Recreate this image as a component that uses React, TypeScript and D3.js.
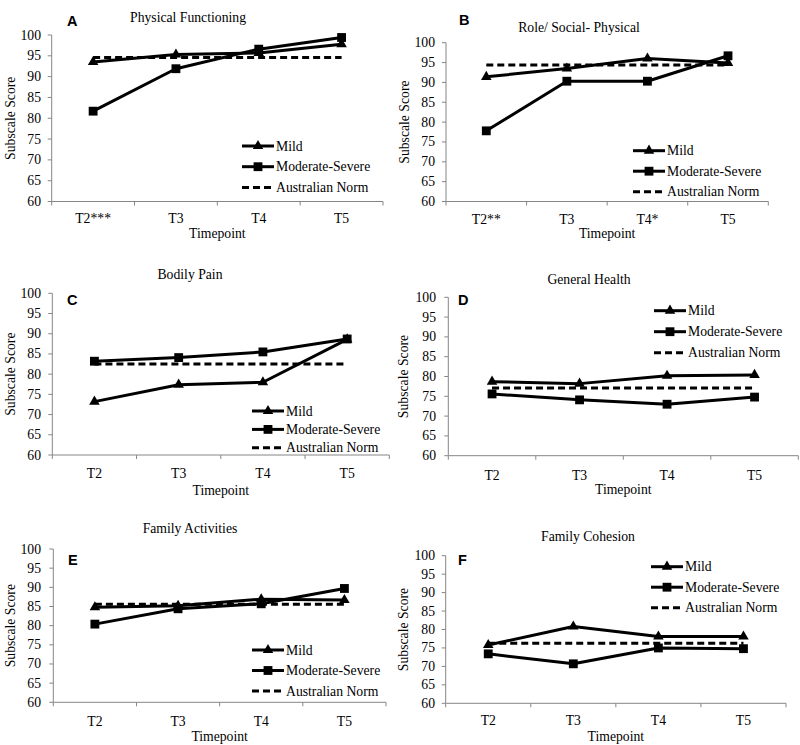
import React from "react";
import * as d3 from "d3";

// ---------- data ----------
const panelLetters = ["A", "B", "C", "D", "E", "F"];
const panelTitles = [
  "Physical Functioning",
  "Role/ Social- Physical",
  "Bodily Pain",
  "General Health",
  "Family Activities",
  "Family Cohesion",
];
const xCategories = [
  ["T2***", "T3", "T4", "T5"],
  ["T2**", "T3", "T4*", "T5"],
  ["T2", "T3", "T4", "T5"],
  ["T2", "T3", "T4", "T5"],
  ["T2", "T3", "T4", "T5"],
  ["T2", "T3", "T4", "T5"],
];
const mildValues = [
  [93.5, 95.3, 95.7, 97.8],
  [91.4, 93.5, 96.0, 94.9],
  [73.2, 77.4, 78.0, 88.6],
  [78.7, 78.2, 80.2, 80.4],
  [84.8, 85.2, 86.9, 86.7],
  [75.8, 80.8, 78.1, 78.1],
];
const modSevValues = [
  [81.7, 91.9, 96.6, 99.4],
  [77.8, 90.3, 90.3, 96.7],
  [83.2, 84.1, 85.5, 88.7],
  [75.6, 74.1, 73.0, 74.8],
  [80.4, 84.4, 85.7, 89.7],
  [73.4, 70.7, 75.0, 74.8],
];
const normValues = [94.6, 94.4, 82.5, 77.1, 85.6, 76.3];
const yTicks = [60, 65, 70, 75, 80, 85, 90, 95, 100];
const seriesNames = ["Mild", "Moderate-Severe", "Australian Norm"];
const yAxisTitle = "Subscale Score";
const xAxisTitle = "Timepoint";

// ---------- layout (pixels) ----------
type Layout = {
  left: number; right: number; top: number; bottom: number;
  titleX: number; titleY: number; letterX: number; letterY: number;
  legX: number; legY: number; legStep: number;
  tickLabelY: number; xTitleY: number; yTitleX: number; yTickRight: number;
};
const layouts: Layout[] = [
  { left: 51.7, right: 383, top: 35, bottom: 201.5, titleX: 188, titleY: 17, letterX: 67, letterY: 26, legX: 242, legY: 146, legStep: 20.7, tickLabelY: 218.5, xTitleY: 233, yTitleX: 10, yTickRight: 41 },
  { left: 446, right: 768.3, top: 42.7, bottom: 201.5, titleX: 579, titleY: 27, letterX: 459, letterY: 25, legX: 633, legY: 150.7, legStep: 20.5, tickLabelY: 219.3, xTitleY: 233, yTitleX: 404, yTickRight: 435 },
  { left: 52.3, right: 389.3, top: 293.3, bottom: 455, titleX: 190, titleY: 274.3, letterX: 67, letterY: 305, legX: 252, legY: 411, legStep: 18.4, tickLabelY: 473.5, xTitleY: 490, yTitleX: 10, yTickRight: 41 },
  { left: 448.3, right: 798.3, top: 297.3, bottom: 455.7, titleX: 589, titleY: 279.3, letterX: 458, letterY: 305, legX: 654, legY: 310.7, legStep: 21, tickLabelY: 475, xTitleY: 489.5, yTitleX: 403, yTickRight: 436 },
  { left: 53.3, right: 386, top: 549, bottom: 702.3, titleX: 190, titleY: 528.3, letterX: 68, letterY: 565, legX: 252, legY: 650, legStep: 20.5, tickLabelY: 721.7, xTitleY: 736, yTitleX: 10, yTickRight: 41 },
  { left: 445.7, right: 786, top: 555.7, bottom: 703.3, titleX: 588, titleY: 536, letterX: 458, letterY: 565, legX: 651, legY: 566.7, legStep: 20.5, tickLabelY: 720, xTitleY: 736.7, yTitleX: 403, yTickRight: 435 },
];

const FS = 13.7;
const serifStyle: React.CSSProperties = {
  fontFamily: '"Liberation Serif", "Times New Roman", Times, "DejaVu Serif", serif',
  fontSize: FS,
};
const sansStyle: React.CSSProperties = {
  fontFamily: '"Liberation Sans", Arial, Helvetica, sans-serif',
  fontSize: 14.5,
  fontWeight: 700,
};
const AXIS = "#868686";
const triPath = d3.symbol(d3.symbolTriangle, 48)() as string;
const sqPath = d3.symbol(d3.symbolSquare, 78)() as string;

function Panel({ i }: { i: number }) {
  const L = layouts[i];
  const cats = xCategories[i];
  const x = d3.scaleBand<string>().domain(cats).range([L.left, L.right]).padding(0);
  const y = d3.scaleLinear().domain([60, 100]).range([L.bottom, L.top]);
  const cx = (c: string) => (x(c) as number) + x.bandwidth() / 2;
  const line = d3.line<number>().x((_, k) => cx(cats[k])).y((v) => y(v));
  const boundaries = cats.map((c) => x(c) as number).concat([L.right]);
  const normLine = d3.line<string>().x((c) => cx(c)).y(() => y(normValues[i]));
  const legRows = [0, 1, 2].map((k) => L.legY + k * L.legStep);
  const legLineEnd = L.legX + 32;
  return (
    <g>
      <text x={L.titleX} y={L.titleY} textAnchor="middle" dominantBaseline="central" style={serifStyle}>
        {panelTitles[i]}
      </text>
      <text x={L.letterX} y={L.letterY} style={sansStyle}>
        {panelLetters[i]}
      </text>
      {/* y axis */}
      <line x1={L.left} x2={L.left} y1={L.top} y2={L.bottom} stroke={AXIS} strokeWidth={1} />
      {yTicks.map((t) => (
        <g key={t}>
          <line x1={L.left - 4} x2={L.left} y1={y(t)} y2={y(t)} stroke={AXIS} strokeWidth={1} />
          <text x={L.yTickRight} y={y(t)} textAnchor="end" dominantBaseline="central" style={serifStyle}>
            {t}
          </text>
        </g>
      ))}
      <text
        transform={`translate(${L.yTitleX},${(L.top + L.bottom) / 2}) rotate(-90)`}
        textAnchor="middle"
        dominantBaseline="central"
        style={serifStyle}
      >
        {yAxisTitle}
      </text>
      {/* x axis */}
      <line x1={L.left} x2={L.right} y1={L.bottom} y2={L.bottom} stroke={AXIS} strokeWidth={1} />
      {boundaries.map((b, k) => (
        <line key={k} x1={b} x2={b} y1={L.bottom} y2={L.bottom + 4} stroke={AXIS} strokeWidth={1} />
      ))}
      {cats.map((c) => (
        <text key={c} x={cx(c)} y={L.tickLabelY} textAnchor="middle" dominantBaseline="central" style={serifStyle}>
          {c}
        </text>
      ))}
      <text x={(L.left + L.right) / 2} y={L.xTitleY} textAnchor="middle" dominantBaseline="central" style={serifStyle}>
        {xAxisTitle}
      </text>
      {/* series */}
      <path d={line(mildValues[i]) as string} fill="none" stroke="#000" strokeWidth={3} strokeLinejoin="round" />
      {mildValues[i].map((v, k) => (
        <path key={k} d={triPath} transform={`translate(${cx(cats[k])},${y(v)})`} fill="#000" />
      ))}
      <path d={line(modSevValues[i]) as string} fill="none" stroke="#000" strokeWidth={3} strokeLinejoin="round" />
      {modSevValues[i].map((v, k) => (
        <path key={k} d={sqPath} transform={`translate(${cx(cats[k])},${y(v)})`} fill="#000" />
      ))}
      <path d={normLine(cats) as string} fill="none" stroke="#000" strokeWidth={3} strokeDasharray="7,4" />
      {/* legend */}
      <line x1={L.legX} x2={legLineEnd} y1={legRows[0]} y2={legRows[0]} stroke="#000" strokeWidth={3} />
      <path d={triPath} transform={`translate(${(L.legX + legLineEnd) / 2},${legRows[0]})`} fill="#000" />
      <line x1={L.legX} x2={legLineEnd} y1={legRows[1]} y2={legRows[1]} stroke="#000" strokeWidth={3} />
      <path d={sqPath} transform={`translate(${(L.legX + legLineEnd) / 2},${legRows[1]})`} fill="#000" />
      <line x1={L.legX} x2={legLineEnd} y1={legRows[2]} y2={legRows[2]} stroke="#000" strokeWidth={3} strokeDasharray="7,4" />
      {seriesNames.map((n, k) => (
        <text key={n} x={legLineEnd + 2} y={legRows[k]} dominantBaseline="central" style={serifStyle}>
          {n}
        </text>
      ))}
    </g>
  );
}

export default function App() {
  return (
    <svg
      width={800}
      height={745}
      viewBox="0 0 800 745"
      style={{ position: "absolute", left: 0, top: 0, background: "#fff" }}
    >
      <rect x={0} y={0} width={800} height={745} fill="#fff" />
      {panelLetters.map((_, i) => (
        <Panel key={i} i={i} />
      ))}
    </svg>
  );
}
